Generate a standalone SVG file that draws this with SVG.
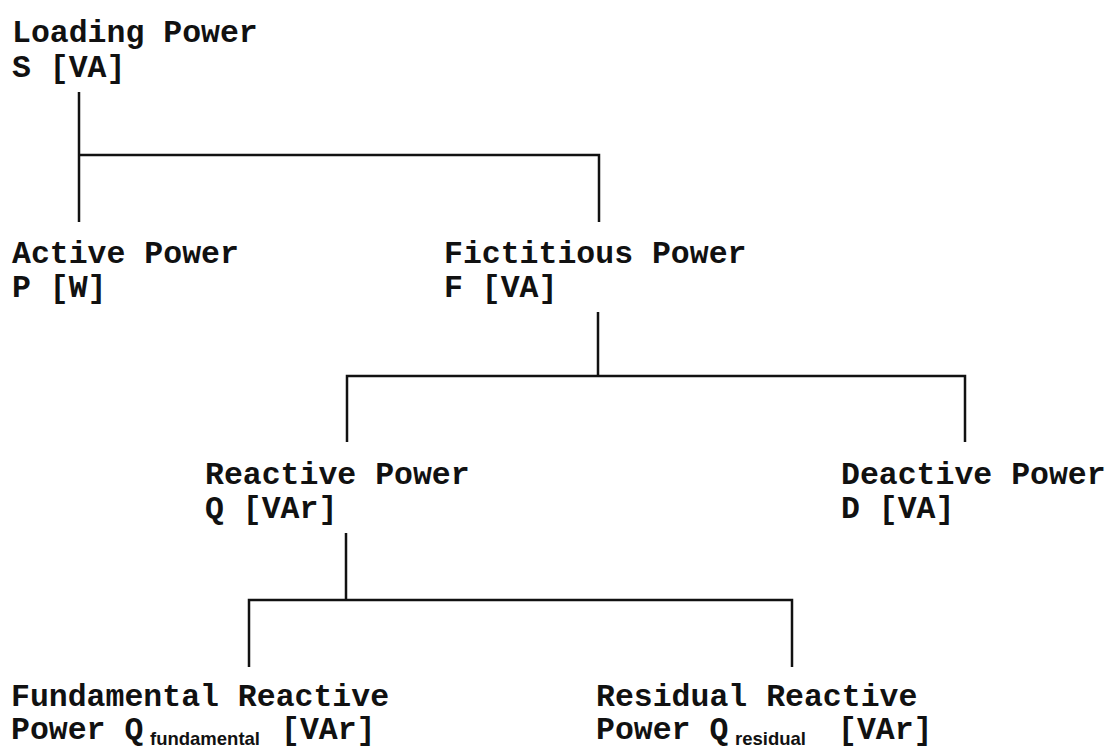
<svg xmlns="http://www.w3.org/2000/svg" width="1111" height="748" viewBox="0 0 1111 748">
<style>
.t{font-family:"Liberation Mono","Courier New",monospace;font-weight:bold;font-size:31.5px;fill:#111}
.s{font-family:"Liberation Sans",Arial,sans-serif;font-weight:bold;font-size:18.5px;fill:#111}
.c{stroke:#111;stroke-width:2.5;fill:none}
</style>
<rect width="1111" height="748" fill="#fff"/>
<g id="connectors">
<path class="c" d="M79 92V222M79 155H599V222"/>
<path class="c" d="M598 312V376M347 442V376H965V442"/>
<path class="c" d="M346 533V600M249 667V600H792V667"/>
</g>
<g id="loading"><text class="t" x="12" y="42">Loading Power</text><text class="t" x="12" y="77">S [VA]</text></g>
<g id="active"><text class="t" x="12" y="263">Active Power</text><text class="t" x="12" y="297">P [W]</text></g>
<g id="fictitious"><text class="t" x="444" y="263">Fictitious Power</text><text class="t" x="444" y="297">F [VA]</text></g>
<g id="reactive"><text class="t" x="205" y="484">Reactive Power</text><text class="t" x="205" y="518">Q [VAr]</text></g>
<g id="deactive"><text class="t" x="841" y="484">Deactive Power</text><text class="t" x="841" y="518">D [VA]</text></g>
<g id="fundamental"><text class="t" x="11" y="706">Fundamental Reactive</text><text class="t" x="11" y="739">Power Q</text><text class="s" x="150" y="745">fundamental</text><text class="t" x="281" y="739">[VAr]</text></g>
<g id="residual"><text class="t" x="596" y="706">Residual Reactive</text><text class="t" x="596" y="739">Power Q</text><text class="s" x="735" y="745">residual</text><text class="t" x="838" y="739">[VAr]</text></g>
</svg>
